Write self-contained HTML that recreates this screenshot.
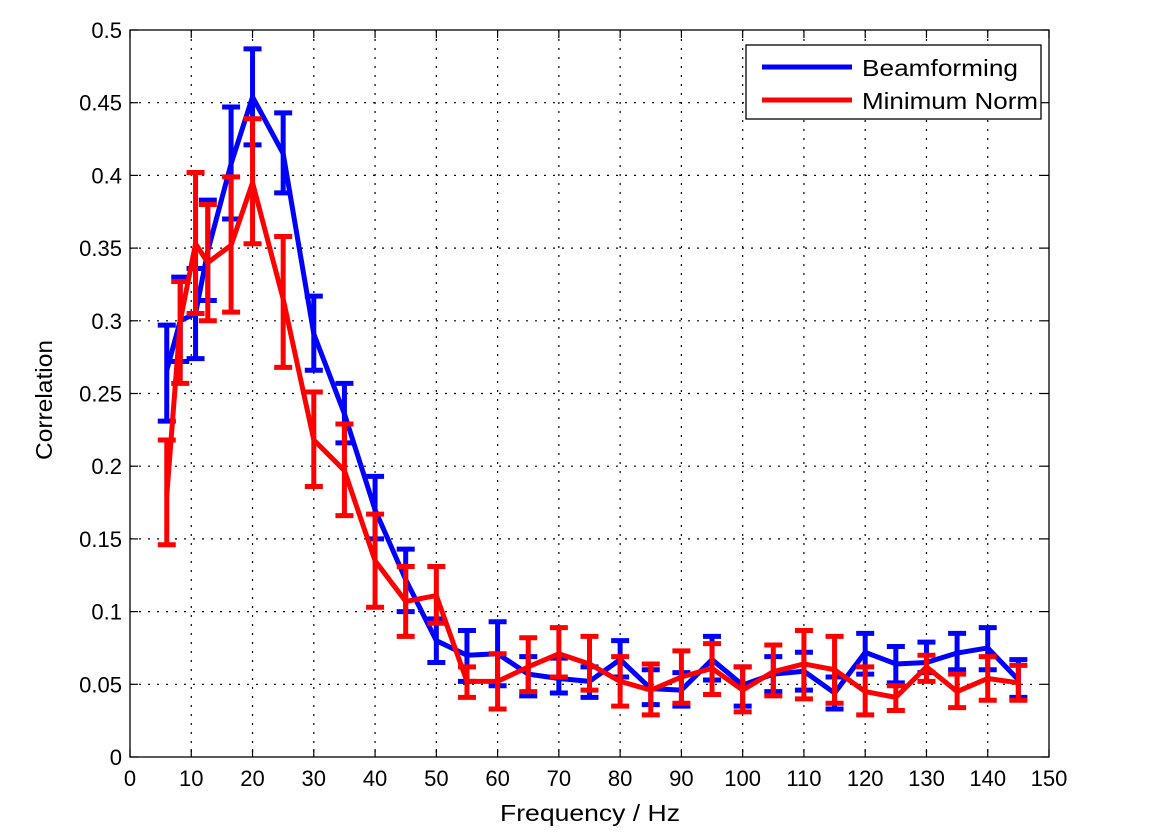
<!DOCTYPE html>
<html><head><meta charset="utf-8"><style>
html,body{margin:0;padding:0;background:#fff;}
svg text{font-family:"Liberation Sans",Arial,sans-serif;fill:#000;}
</style></head><body>
<svg id="chart" width="1167" height="834" xmlns="http://www.w3.org/2000/svg">
<rect x="0" y="0" width="1167" height="834" fill="#fff"/>
<g id="grid"></g>
<g id="series"></g>
<rect x="130" y="30" width="919" height="727" fill="none" stroke="#000" stroke-width="1.3"/>
<g id="axes"></g>
<text x="500" y="821" font-size="23" textLength="180" lengthAdjust="spacingAndGlyphs">Frequency / Hz</text>
<text x="52" y="400" font-size="23" text-anchor="middle" textLength="120" lengthAdjust="spacingAndGlyphs" transform="rotate(-90 52 400)">Correlation</text>
<g>
<rect x="746" y="45" width="295" height="74" fill="#fff" stroke="#000" stroke-width="1.3"/>
<g>
<line x1="762" y1="67" x2="852" y2="67" stroke="#0000ff" stroke-width="5"/>
<text x="862" y="76" font-size="23" textLength="156" lengthAdjust="spacingAndGlyphs">Beamforming</text></g>
<g>
<line x1="762" y1="100" x2="852" y2="100" stroke="#ff0000" stroke-width="5"/>
<text x="862" y="109" font-size="23" textLength="176" lengthAdjust="spacingAndGlyphs">Minimum Norm</text></g>
</g>
</svg>
<script>
const freqs=[6,8.2,10.7,12.7,16.5,20,25,30,35,40,45,50,55,60,65,70,75,80,85,90,95,100,105,110,115,120,125,130,135,140,145];
const beamMean=[0.266,0.30,0.305,0.348,0.408,0.454,0.415,0.291,0.236,0.17,0.122,0.08,0.070,0.071,0.057,0.054,0.052,0.067,0.047,0.046,0.067,0.0495,0.057,0.059,0.044,0.072,0.064,0.065,0.0715,0.075,0.053];
const beamUpper=[0.297,0.33,0.336,0.383,0.447,0.487,0.443,0.317,0.257,0.193,0.143,0.095,0.087,0.093,0.069,0.068,0.062,0.080,0.060,0.058,0.083,0.062,0.069,0.072,0.055,0.085,0.076,0.079,0.085,0.089,0.067];
const beamLower=[0.231,0.272,0.274,0.314,0.370,0.421,0.388,0.266,0.216,0.15,0.10,0.065,0.052,0.049,0.042,0.044,0.041,0.055,0.036,0.035,0.053,0.035,0.045,0.046,0.033,0.057,0.051,0.058,0.060,0.060,0.041];
const mnMean=[0.18,0.30,0.353,0.34,0.352,0.395,0.315,0.218,0.197,0.135,0.107,0.111,0.052,0.052,0.062,0.071,0.064,0.052,0.046,0.055,0.061,0.046,0.0587,0.064,0.060,0.045,0.041,0.062,0.045,0.054,0.051];
const mnUpper=[0.218,0.327,0.402,0.380,0.399,0.439,0.358,0.251,0.229,0.167,0.131,0.131,0.062,0.071,0.082,0.089,0.083,0.069,0.064,0.073,0.078,0.062,0.077,0.087,0.083,0.062,0.049,0.070,0.057,0.069,0.063];
const mnLower=[0.146,0.257,0.305,0.300,0.306,0.353,0.268,0.186,0.166,0.103,0.083,0.092,0.041,0.033,0.045,0.055,0.046,0.035,0.029,0.037,0.043,0.031,0.042,0.040,0.037,0.029,0.032,0.052,0.034,0.039,0.039];
const xTicks=[0,10,20,30,40,50,60,70,80,90,100,110,120,130,140,150];
const yTicks=[0,0.05,0.1,0.15,0.2,0.25,0.3,0.35,0.4,0.45,0.5];
const yTickLabels=["0","0.05","0.1","0.15","0.2","0.25","0.3","0.35","0.4","0.45","0.5"];

const NS="http://www.w3.org/2000/svg";
const X0=130,X1=1049,Y0=757,Y1=30;
const xs=v=>X0+(v-0)/150*(X1-X0);
const ys=v=>Y0-(v-0)/0.5*(Y0-Y1);
function mk(tag,attrs,parent){const e=document.createElementNS(NS,tag);for(const k in attrs)e.setAttribute(k,attrs[k]);parent.appendChild(e);return e;}
const grid=document.getElementById('grid'),axes=document.getElementById('axes'),series=document.getElementById('series');
xTicks.forEach((t,i)=>{
  const x=xs(t);
  if(i>0&&i<xTicks.length-1){const g=mk('line',{x1:x,y1:Y1,x2:x,y2:Y0,stroke:'#000','stroke-width':1.2,'stroke-dasharray':'2,7'},grid);
  
  }
  const tk=mk('line',{x1:x,y1:Y0,x2:x,y2:Y0-8,stroke:'#000','stroke-width':1.2},axes);
  
  
  mk('line',{x1:x,y1:Y1,x2:x,y2:Y1+8,stroke:'#000','stroke-width':1.2},axes);
  const tx=mk('text',{x:x,y:786,'font-size':22,'text-anchor':'middle'},axes);tx.textContent=t;
  
  
});
yTicks.forEach((t,i)=>{
  const y=ys(t);
  if(i>0&&i<yTicks.length-1){const g=mk('line',{x1:X0,y1:y,x2:X1,y2:y,stroke:'#000','stroke-width':1.2,'stroke-dasharray':'2,7'},grid);
  
  }
  const tk=mk('line',{x1:X0,y1:y,x2:X0+8,y2:y,stroke:'#000','stroke-width':1.2},axes);
  
  
  mk('line',{x1:X1,y1:y,x2:X1-8,y2:y,stroke:'#000','stroke-width':1.2},axes);
  const tx=mk('text',{x:122,y:y+8,'font-size':22,'text-anchor':'end'},axes);tx.textContent=yTickLabels[i];
  
  
});
function drawSeries(mean,up,lo,color,name){
  const g=mk('g',{},series);
  
  
  const pts=freqs.map((f,i)=>xs(f)+','+ys(mean[i])).join(' ');
  const pl=mk('polyline',{points:pts,fill:'none',stroke:color,'stroke-width':5,'stroke-linejoin':'round'},g);
  
  
  freqs.forEach((f,i)=>{
    const x=xs(f),yu=ys(up[i]),yl=ys(lo[i]);
    const e=mk('path',{d:`M${x},${yu}V${yl}M${x-9},${yu}H${x+9}M${x-9},${yl}H${x+9}`,stroke:color,'stroke-width':5,fill:'none'},g);
    
    
  });
}
drawSeries(beamMean,beamUpper,beamLower,'#0000ff','beamforming');
drawSeries(mnMean,mnUpper,mnLower,'#ff0000','minimum-norm');
</script>
</body></html>
